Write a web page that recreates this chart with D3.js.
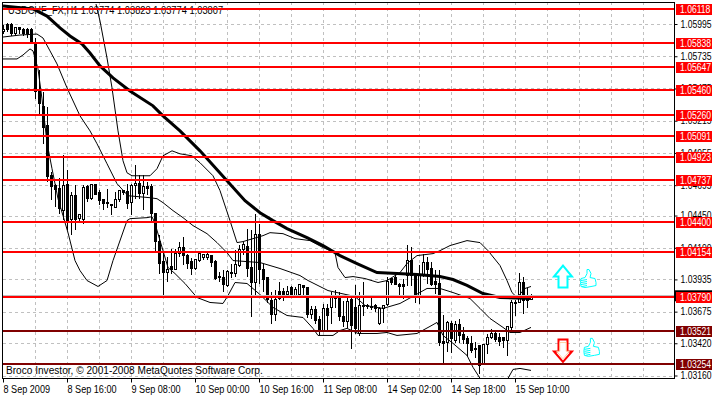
<!DOCTYPE html>
<html>
<head>
<meta charset="utf-8">
<style>
    html, body { margin: 0; background: #fff; overflow: hidden; }
    text { font-family: "Liberation Sans", sans-serif; font-size: 10px; fill: #000; }
</style>
<script src="https://d3js.org/d3.v7.min.js"></script>
</head>
<body>
<svg id="chart" width="712" height="395"></svg>
<script>
const symbol = 'USDCHF_FX,H1'
const copyright = 'Broco Investor, © 2001-2008 MetaQuotes Software Corp.'

const open = [1.05939,1.05995,1.05995,1.05923,1.05971,1.05955,1.05955,1.05955,1.05850,1.05464,1.05335,1.05182,1.04779,1.04699,1.04675,1.04498,1.04707,1.04425,1.04618,1.04433,1.04425,1.04691,1.04594,1.04707,1.04642,1.04586,1.04562,1.04546,1.04522,1.04586,1.04659,1.04651,1.04562,1.04699,1.04715,1.04634,1.04691,1.04691,1.04473,1.04248,1.04087,1.03998,1.04047,1.04023,1.04151,1.04200,1.04135,1.04087,1.04031,1.04095,1.04119,1.04119,1.04135,1.04087,1.03966,1.03958,1.03886,1.03998,1.03990,1.04055,1.04184,1.04208,1.04039,1.03918,1.04304,1.04023,1.03958,1.03765,1.03660,1.03845,1.03845,1.03821,1.03870,1.03797,1.03821,1.03886,1.03870,1.03652,1.03693,1.03612,1.03515,1.03701,1.03709,1.03813,1.03789,1.03636,1.03596,1.03781,1.03709,1.03499,1.03725,1.03725,1.03717,1.03725,1.03580,1.03701,1.03733,1.03950,1.03958,1.03902,1.03894,1.03974,1.04095,1.03974,1.03813,1.03974,1.04079,1.04031,1.03926,1.03910,1.03435,1.03427,1.03580,1.03443,1.03572,1.03491,1.03459,1.03419,1.03371,1.03403,1.03258,1.03411,1.03467,1.03499,1.03467,1.03467,1.03443,1.03548,1.03749,1.03749,1.03918,1.03765,1.03774]
const high = [1.05995,1.06011,1.06011,1.05979,1.05979,1.05971,1.05971,1.05971,1.05890,1.05633,1.05456,1.05335,1.04811,1.04715,1.04763,1.04948,1.04828,1.04651,1.04707,1.04473,1.04707,1.04707,1.04715,1.04715,1.04667,1.04594,1.04675,1.04546,1.04651,1.04659,1.04667,1.04715,1.04715,1.04868,1.04787,1.04787,1.04731,1.04715,1.04473,1.04304,1.04167,1.04127,1.04192,1.04192,1.04248,1.04288,1.04151,1.04119,1.04103,1.04159,1.04151,1.04167,1.04143,1.04103,1.04006,1.04015,1.04023,1.04071,1.04184,1.04224,1.04248,1.04353,1.04345,1.04473,1.04393,1.04071,1.03966,1.03845,1.03854,1.03926,1.03870,1.03886,1.03886,1.03878,1.03894,1.03902,1.03870,1.03725,1.03725,1.03644,1.03741,1.03741,1.03845,1.03854,1.03845,1.03765,1.03805,1.03805,1.03902,1.03845,1.03926,1.03741,1.03797,1.03741,1.03717,1.03733,1.03966,1.03958,1.04006,1.03918,1.03950,1.04224,1.04208,1.03990,1.04063,1.04151,1.04127,1.04087,1.04023,1.04023,1.03660,1.03604,1.03604,1.03604,1.03620,1.03556,1.03483,1.03483,1.03435,1.03403,1.03419,1.03499,1.03540,1.03523,1.03507,1.03475,1.03564,1.03781,1.03781,1.03998,1.03966,1.03870,1.03823]
const low = [1.05923,1.05939,1.05906,1.05906,1.05923,1.05906,1.05890,1.05842,1.05399,1.05279,1.05037,1.04731,1.04586,1.04530,1.04473,1.04425,1.04345,1.04304,1.04345,1.04409,1.04393,1.04570,1.04586,1.04626,1.04546,1.04506,1.04522,1.04465,1.04522,1.04570,1.04626,1.04514,1.04465,1.04594,1.04594,1.04506,1.04626,1.04409,1.04159,1.03990,1.03821,1.03926,1.03990,1.04023,1.04127,1.04063,1.04031,1.03982,1.04023,1.04087,1.04103,1.04103,1.04047,1.03942,1.03926,1.03845,1.03878,1.03958,1.03966,1.04047,1.04143,1.03966,1.03636,1.03805,1.03910,1.03845,1.03749,1.03580,1.03604,1.03781,1.03765,1.03797,1.03797,1.03797,1.03797,1.03805,1.03628,1.03620,1.03580,1.03483,1.03515,1.03523,1.03580,1.03709,1.03604,1.03556,1.03548,1.03379,1.03499,1.03483,1.03644,1.03701,1.03693,1.03684,1.03572,1.03588,1.03725,1.03902,1.03894,1.03805,1.03789,1.03886,1.03886,1.03749,1.03741,1.03966,1.03910,1.03886,1.03829,1.03403,1.03258,1.03354,1.03346,1.03427,1.03427,1.03419,1.03322,1.03346,1.03306,1.03177,1.03250,1.03338,1.03459,1.03435,1.03403,1.03387,1.03322,1.03523,1.03644,1.03749,1.03668,1.03709,1.03774]
const close = [1.05955,1.05955,1.05923,1.05971,1.05955,1.05923,1.05923,1.05842,1.05456,1.05359,1.05166,1.04771,1.04691,1.04667,1.04514,1.04699,1.04417,1.04618,1.04425,1.04465,1.04683,1.04594,1.04707,1.04626,1.04578,1.04554,1.04554,1.04538,1.04586,1.04659,1.04642,1.04554,1.04699,1.04715,1.04634,1.04691,1.04675,1.04473,1.04248,1.04071,1.03998,1.04023,1.04023,1.04151,1.04200,1.04135,1.04071,1.04031,1.04103,1.04151,1.04143,1.04143,1.04079,1.03950,1.03958,1.03902,1.04006,1.03990,1.04063,1.04184,1.04224,1.04031,1.03918,1.04304,1.04015,1.03942,1.03781,1.03660,1.03773,1.03789,1.03797,1.03845,1.03821,1.03854,1.03894,1.03870,1.03660,1.03693,1.03604,1.03515,1.03701,1.03644,1.03813,1.03789,1.03636,1.03596,1.03757,1.03564,1.03540,1.03725,1.03717,1.03717,1.03709,1.03701,1.03701,1.03725,1.03926,1.03918,1.03902,1.03878,1.03878,1.04095,1.03974,1.03821,1.03974,1.04079,1.04023,1.03902,1.03902,1.03427,1.03419,1.03588,1.03459,1.03572,1.03483,1.03451,1.03419,1.03362,1.03379,1.03242,1.03411,1.03467,1.03499,1.03451,1.03435,1.03443,1.03556,1.03749,1.03741,1.03918,1.03765,1.03781,1.03807]

// [bar, price]
const maLine = [[0,1.06140],[7.5,1.06116],[11,1.06059],[14.25,1.05963],[16.75,1.05898],[19.75,1.05834],[21.75,1.05761],[24.25,1.05657],[27.5,1.05560],[31.75,1.05455],[37.5,1.05335],[40,1.05254],[44.25,1.05133],[49.25,1.04972],[56,1.04731],[60.5,1.04570],[64.25,1.04473],[67.5,1.04409],[71,1.04345],[76,1.04272],[80,1.04208],[84.25,1.04127],[88.5,1.04063],[93.5,1.03990],[98.5,1.03982],[103.5,1.03974],[109.25,1.03958],[112.5,1.03934],[116,1.03886],[120,1.03821],[124.25,1.03789],[132,1.03781]]
const upperBand = [[23.25,1.06156],[24.25,1.06019],[26,1.05721],[27.25,1.05480],[28.75,1.05133],[30,1.04892],[31,1.04795],[32.25,1.04771],[36.75,1.04771],[38.5,1.04828],[40,1.04932],[42.25,1.04972],[44.25,1.04948],[47.25,1.04932],[49.25,1.04876],[52.5,1.04771],[54.25,1.04651],[56.75,1.04409],[58.5,1.04232],[60,1.04240],[65,1.04288],[66.75,1.04312],[70,1.04304],[73,1.04264],[76.75,1.04248],[80,1.04192],[83,1.04151],[83.75,1.04031],[85.5,1.03950],[87.5,1.03958],[90.5,1.03942],[93.75,1.03910],[96,1.03926],[99.25,1.03990],[101,1.04063],[103.5,1.04127],[107.5,1.04143],[109.25,1.04167],[111.75,1.04208],[116,1.04248],[119.25,1.04232],[121.25,1.04167],[124.25,1.04047],[126,1.03926],[127.25,1.03829],[128.5,1.03789],[130.5,1.03862],[132,1.03878]]
const middleBand = [[0,1.05890],[4.25,1.05906],[8.5,1.05914],[10,1.05882],[11.75,1.05778],[13.5,1.05673],[16,1.05480],[19.25,1.05254],[21.75,1.05133],[23.5,1.05029],[26,1.04868],[28.5,1.04707],[31.25,1.04610],[36.75,1.04594],[38.5,1.04586],[40,1.04554],[42.5,1.04490],[45,1.04433],[47.5,1.04369],[51,1.04304],[53.5,1.04232],[56,1.04151],[57.5,1.04087],[64.25,1.04071],[69.25,1.04023],[74.25,1.03966],[76.25,1.03926],[81.25,1.03845],[88,1.03797],[90.5,1.03725],[95,1.03701],[99.25,1.03741],[103.75,1.03821],[106,1.03862],[109.25,1.03862],[112.5,1.03829],[116.75,1.03781],[119.25,1.03701],[121.75,1.03620],[125,1.03548],[126.75,1.03507],[129.25,1.03507],[132,1.03548]]
const lowerBand = [[0,1.05713],[3.5,1.05713],[5,1.05745],[6.75,1.05794],[7.5,1.05778],[8.75,1.05633],[9.75,1.05391],[11,1.05037],[12.25,1.04828],[13.75,1.04586],[15,1.04449],[16.25,1.04312],[18,1.04087],[19.25,1.04006],[21,1.03926],[23.75,1.03878],[26,1.03926],[27.5,1.04087],[31,1.04409],[31.75,1.04425],[36,1.04433],[37.25,1.04441],[38,1.04385],[40,1.04167],[41.25,1.04031],[43,1.03982],[45.5,1.03902],[48.5,1.03789],[51.75,1.03749],[55,1.03741],[56.25,1.03805],[58,1.03910],[61,1.03902],[64.25,1.03813],[67.5,1.03709],[71,1.03644],[75,1.03628],[77.5,1.03540],[78.75,1.03483],[82.5,1.03483],[84.25,1.03523],[86,1.03540],[88.75,1.03499],[93.5,1.03499],[96,1.03507],[98.5,1.03483],[103.5,1.03499],[106.75,1.03556],[108.5,1.03588],[110,1.03483],[112.5,1.03419],[116,1.03322],[117.5,1.03226],[119.25,1.03137],[121.75,1.02960],[125,1.02960],[126.25,1.03137],[127.5,1.03209],[129.25,1.03217],[132,1.03201]]

const redLevels = [1.06118,1.05838,1.05647,1.05460,1.05260,1.05091,1.04923,1.04737,1.04400,1.04154,1.03790]
const darkLevels = [1.03521,1.03254]
const priceTicks = [1.05995,1.05735,1.05475,1.05215,1.04955,1.04695,1.04450,1.04190,1.03935,1.03675,1.03420,1.03160]
const timeBars = [0,16,32,48,64,80,96,112,128]
const timeLabels = ['8 Sep 2009','8 Sep 16:00','9 Sep 08:00','10 Sep 00:00','10 Sep 16:00','11 Sep 08:00','14 Sep 02:00','14 Sep 18:00','15 Sep 10:00']
const gridBars = d3.range(0, 168, 8)
const bidPrice = 1.03807

const bars = open.map((o, i) => ({ i, o, h: high[i], l: low[i], c: close[i] }))

const plotLeft = 3, plotRight = 674, plotTop = 2, plotBottom = 378
const priceSqueeze = .86
const x = d3.scaleLinear().domain([0, 167.75]).range([plotLeft, plotRight])
const y = d3.scaleLinear().domain([1.05995, 1.0316]).range([24, 375.5])
const snap = v => Math.round(v) + .5

const svg = d3.select('#chart')

// text in the reference is narrower than Liberation at the same height
function squeeze(selection, factor) {
    selection.each(function () {
        d3.select(this)
            .attr('textLength', this.getComputedTextLength() * factor)
            .attr('lengthAdjust', 'spacingAndGlyphs')
    })
}

svg.append('defs').append('clipPath').attr('id', 'plot')
    .append('rect')
    .attr('x', plotLeft).attr('y', plotTop + 1)
    .attr('width', plotRight - plotLeft).attr('height', plotBottom - plotTop - 1)

// grid
const grid = svg.append('g')
    .attr('stroke', '#c0c0c0')
    .attr('stroke-dasharray', '3,3')
    .attr('shape-rendering', 'crispEdges')

grid.selectAll('.gv').data(gridBars.slice(1)).enter().append('line')
    .attr('x1', d => snap(x(d))).attr('x2', d => snap(x(d)))
    .attr('y1', plotTop).attr('y2', plotBottom)

grid.selectAll('.gh').data(priceTicks).enter().append('line')
    .attr('x1', plotLeft).attr('x2', plotRight)
    .attr('y1', d => snap(y(d))).attr('y2', d => snap(y(d)))

// axes
const yAxis = svg.append('g')
    .attr('transform', `translate(${plotRight + .5},0)`)
    .call(d3.axisRight(y).tickValues(priceTicks).tickFormat(d3.format('.5f')).tickSize(3).tickPadding(3))
yAxis.select('.domain').remove()
yAxis.selectAll('text')
    .attr('x', 6 / priceSqueeze)
    .attr('transform', `scale(${priceSqueeze},1)`)

const xAxis = svg.append('g')
    .attr('transform', `translate(0,${plotBottom + .5})`)
    .call(d3.axisBottom(x).tickValues(timeBars).tickFormat((d, i) => timeLabels[i]).tickSize(4).tickPadding(3))
xAxis.select('.domain').remove()
xAxis.selectAll('text').attr('text-anchor', 'start').attr('dx', 0).call(squeeze, .91)

// header and copyright
const header = svg.append('text').attr('x', 8).attr('y', 14)
    .text(`${symbol}  ${[open[132], high[132], low[132], close[132]].map(d3.format('.5f')).join(' ')}`)
header.call(squeeze, .93)

// candles
const plot = svg.append('g').attr('clip-path', 'url(#plot)')

const candle = plot.selectAll('.bar').data(bars).enter().append('g')
    .attr('shape-rendering', 'crispEdges')

candle.append('line')
    .attr('x1', d => snap(x(d.i))).attr('x2', d => snap(x(d.i)))
    .attr('y1', d => snap(y(d.h))).attr('y2', d => snap(y(d.l)))
    .attr('stroke', '#000')

candle.append('rect')
    .attr('x', d => snap(x(d.i)) - 1)
    .attr('width', 2)
    .attr('y', d => snap(y(Math.max(d.o, d.c))))
    .attr('height', d => Math.max(1, snap(y(Math.min(d.o, d.c))) - snap(y(Math.max(d.o, d.c)))))
    .attr('fill', d => d.c >= d.o ? '#fff' : '#000')
    .attr('stroke', '#000')

// indicators
const path = d3.line().x(d => x(d[0])).y(d => y(d[1]))

plot.selectAll('.band').data([upperBand, middleBand, lowerBand]).enter().append('path')
    .attr('d', path)
    .attr('fill', 'none')
    .attr('stroke', '#000')
    .attr('stroke-width', 1)

plot.append('path')
    .attr('d', path(maLine))
    .attr('fill', 'none')
    .attr('stroke', '#000')
    .attr('stroke-width', 3)

// bid line and its tag, mostly hidden by the level below it
svg.append('line')
    .attr('x1', plotLeft).attr('x2', plotRight)
    .attr('y1', snap(y(bidPrice))).attr('y2', snap(y(bidPrice)))
    .attr('stroke', '#c0c0c0')
    .attr('shape-rendering', 'crispEdges')
svg.append('rect')
    .attr('x', plotRight + 1).attr('y', y(bidPrice) - 5)
    .attr('width', 712 - plotRight).attr('height', 11)
    .attr('fill', '#000')

// horizontal levels
function drawLevels(levels, color) {
    const g = svg.append('g').selectAll('g').data(levels).enter().append('g')

    g.append('rect')
        .attr('x', plotLeft).attr('width', plotRight - plotLeft)
        .attr('y', d => Math.round(y(d)) - 1).attr('height', 2)
        .attr('fill', color)

    g.append('rect')
        .attr('x', plotRight + 2).attr('width', 712 - plotRight - 2)
        .attr('y', d => Math.round(y(d)) - 5).attr('height', 11)
        .attr('fill', color)

    g.append('text')
        .attr('x', (plotRight + 6) / priceSqueeze)
        .attr('y', d => Math.round(y(d)) + 4)
        .attr('transform', `scale(${priceSqueeze},1)`)
        .style('fill', '#fff')
        .text(d3.format('.5f'))
}
drawLevels(redLevels, '#ff0000')
drawLevels(darkLevels, '#800000')

svg.append('text').attr('x', 6).attr('y', 374).text(copyright).call(squeeze, 1.01)

// frame
svg.append('rect')
    .attr('x', plotLeft - .5).attr('y', plotTop + .5)
    .attr('width', plotRight - plotLeft + 1).attr('height', plotBottom - plotTop)
    .attr('fill', 'none').attr('stroke', '#000')
    .attr('shape-rendering', 'crispEdges')

// signal arrows and thumbs
const arrowUp = 'M0,-11 L9,0 L4.5,0 L4.5,11 L-4.5,11 L-4.5,0 L-9,0 Z'
const arrowDown = 'M0,11.5 L9,1 L4.5,1 L4.5,-11 L-4.5,-11 L-4.5,1 L-9,1 Z'
const thumb = 'M-7,-1 L-3,-2 L-1,-6 L-1,-10 L1,-10 L3,-6 L2,-2 L7,-1 L8,3 L8,6 L3,7 L-3,8 L-7,7 Q-8,3 -7,-1 Z M-7,1 L-1,0 M-7,3 L-1,2 M-7,5 L-1,4 M-6,7 L-1,6'

svg.append('path')
    .attr('d', arrowUp)
    .attr('transform', `translate(${x(140)},${y(1.03958)})`)
    .attr('fill', '#fff').attr('stroke', '#00ffff').attr('stroke-width', 2)

svg.append('path')
    .attr('d', arrowDown)
    .attr('transform', `translate(${x(140)},${y(1.03362)})`)
    .attr('fill', '#fff').attr('stroke', '#ff0000').attr('stroke-width', 2)

svg.append('path')
    .attr('d', arrowDown)
    .attr('transform', `translate(${x(140)},${y(1.03362)}) scale(.72)`)
    .attr('fill', '#fff').attr('stroke', '#ffc080').attr('stroke-width', 1)

svg.selectAll('.thumb').data([[146.25, 1.03934], [147.1, 1.03379]]).enter().append('path')
    .attr('d', thumb)
    .attr('transform', d => `translate(${x(d[0])},${y(d[1])})`)
    .attr('fill', '#fff').attr('stroke', '#00ffff').attr('stroke-width', 1)
</script>
</body>
</html>
